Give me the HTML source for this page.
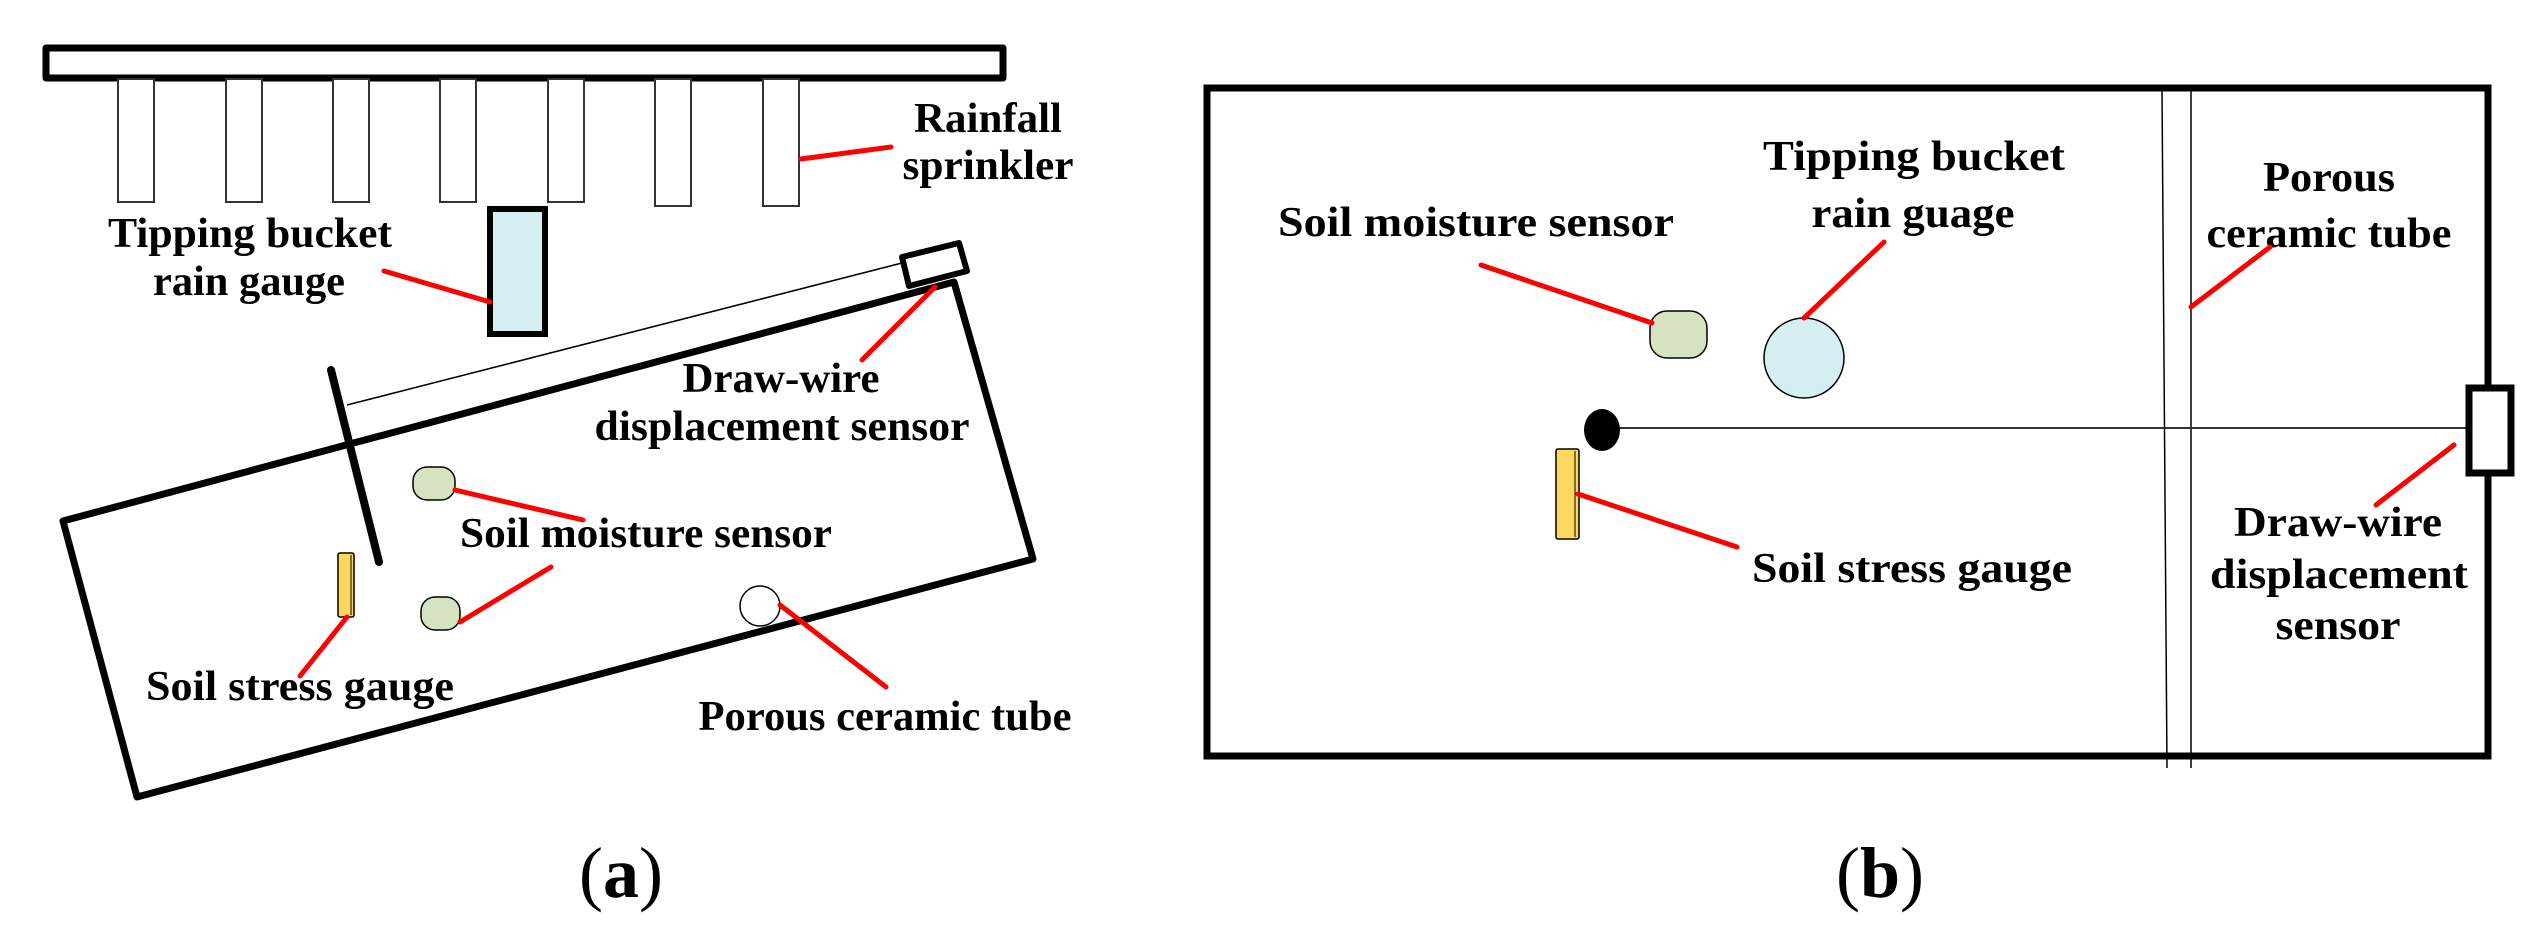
<!DOCTYPE html>
<html><head><meta charset="utf-8"><style>
html,body{margin:0;padding:0;background:#fff;}
svg{display:block;}
text{font-family:"Liberation Serif",serif;font-weight:bold;fill:#000;}
</style></head><body>
<svg width="2532" height="945" viewBox="0 0 2532 945" xmlns="http://www.w3.org/2000/svg">
<!-- Panel (a) -->
<rect x="46" y="48" width="957" height="30" fill="#fff" stroke="#000" stroke-width="7" stroke-linejoin="round"/>
<g fill="#fff" stroke="#333" stroke-width="2">
<rect x="118" y="79" width="36" height="123"/>
<rect x="226" y="79" width="36" height="123"/>
<rect x="333" y="79" width="36" height="123"/>
<rect x="440" y="79" width="36" height="123"/>
<rect x="548" y="79" width="36" height="123"/>
<rect x="655" y="79" width="36" height="127"/>
<rect x="763" y="79" width="36" height="127"/>
</g>
<rect x="490" y="209" width="55" height="125" fill="#d5eef2" stroke="#000" stroke-width="6"/>
<line x1="384" y1="271" x2="490" y2="302" stroke="#f00" stroke-width="5" stroke-linecap="round"/>
<text x="250" y="247" font-size="42" text-anchor="middle" textLength="284" lengthAdjust="spacingAndGlyphs">Tipping bucket</text>
<text x="249" y="295" font-size="42" text-anchor="middle" textLength="192" lengthAdjust="spacingAndGlyphs">rain gauge</text>
<line x1="801" y1="159" x2="891" y2="147" stroke="#f00" stroke-width="5" stroke-linecap="round"/>
<text x="988" y="132" font-size="42" text-anchor="middle" textLength="148" lengthAdjust="spacingAndGlyphs">Rainfall</text>
<text x="988" y="179" font-size="42" text-anchor="middle" textLength="171" lengthAdjust="spacingAndGlyphs">sprinkler</text>
<!-- tilted box -->
<polygon points="63,521 954,282 1033,559 137,797" fill="none" stroke="#000" stroke-width="7" stroke-linejoin="round"/>
<line x1="347" y1="405" x2="902" y2="263" stroke="#000" stroke-width="1.5"/>
<polygon points="902,257 959,243 967,271 909,286" fill="#fff" stroke="#000" stroke-width="6" stroke-linejoin="round"/>
<line x1="331" y1="370" x2="379" y2="562" stroke="#000" stroke-width="8" stroke-linecap="round"/>
<line x1="935" y1="287" x2="862" y2="360" stroke="#f00" stroke-width="5" stroke-linecap="round"/>
<text x="781" y="392" font-size="42" text-anchor="middle" textLength="197" lengthAdjust="spacingAndGlyphs">Draw-wire</text>
<text x="782" y="440" font-size="42" text-anchor="middle" textLength="375" lengthAdjust="spacingAndGlyphs">displacement sensor</text>
<rect x="413" y="467" width="42" height="33" rx="14" fill="#d5e3c0" stroke="#000" stroke-width="1.5"/>
<rect x="421" y="597" width="39" height="33" rx="14" fill="#d5e3c0" stroke="#000" stroke-width="1.5"/>
<line x1="455" y1="490" x2="583" y2="520" stroke="#f00" stroke-width="5" stroke-linecap="round"/>
<line x1="460" y1="622" x2="551" y2="567" stroke="#f00" stroke-width="5" stroke-linecap="round"/>
<text x="646" y="547" font-size="42" text-anchor="middle" textLength="372" lengthAdjust="spacingAndGlyphs">Soil moisture sensor</text>
<rect x="338" y="553" width="16" height="64" rx="2" fill="#fdd85d" stroke="#000" stroke-width="1.5"/>
<line x1="351" y1="555" x2="351" y2="615" stroke="#000" stroke-width="1"/>
<line x1="347" y1="617" x2="300" y2="676" stroke="#f00" stroke-width="5" stroke-linecap="round"/>
<text x="300" y="700" font-size="42" text-anchor="middle" textLength="308" lengthAdjust="spacingAndGlyphs">Soil stress gauge</text>
<circle cx="760" cy="606" r="20" fill="#fff" stroke="#000" stroke-width="1.5"/>
<line x1="780" y1="605" x2="886" y2="687" stroke="#f00" stroke-width="5" stroke-linecap="round"/>
<text x="885" y="730" font-size="42" text-anchor="middle" textLength="373" lengthAdjust="spacingAndGlyphs">Porous ceramic tube</text>
<text x="621" y="897" font-size="72" text-anchor="middle" font-weight="normal" style="font-weight:normal">(<tspan font-weight="bold" style="font-weight:bold">a</tspan>)</text>
<!-- Panel (b) -->
<rect x="1207" y="88" width="1281" height="668" fill="none" stroke="#000" stroke-width="7"/>
<line x1="2162" y1="91" x2="2167" y2="768" stroke="#000" stroke-width="1.5"/>
<line x1="2191" y1="91" x2="2191" y2="768" stroke="#000" stroke-width="1.5"/>
<line x1="1610" y1="428" x2="2468" y2="428" stroke="#333" stroke-width="2"/>
<ellipse cx="1602" cy="430" rx="18" ry="21" fill="#000"/>
<rect x="2469" y="388" width="42" height="85" fill="#fff" stroke="#000" stroke-width="7"/>
<rect x="1556" y="449" width="23" height="90" rx="2" fill="#fdd85d" stroke="#000" stroke-width="1.5"/>
<line x1="1575" y1="451" x2="1575" y2="537" stroke="#000" stroke-width="1"/>
<line x1="1578" y1="494" x2="1737" y2="547" stroke="#f00" stroke-width="5" stroke-linecap="round"/>
<text x="1912" y="582" font-size="42" text-anchor="middle" textLength="320" lengthAdjust="spacingAndGlyphs">Soil stress gauge</text>
<rect x="1650" y="311" width="57" height="47" rx="17" fill="#d5e3c0" stroke="#000" stroke-width="1.5"/>
<line x1="1652" y1="323" x2="1481" y2="265" stroke="#f00" stroke-width="5" stroke-linecap="round"/>
<text x="1476" y="236" font-size="42" text-anchor="middle" textLength="396" lengthAdjust="spacingAndGlyphs">Soil moisture sensor</text>
<circle cx="1804" cy="358" r="40" fill="#d5eef2" stroke="#000" stroke-width="1.5"/>
<line x1="1804" y1="318" x2="1884" y2="242" stroke="#f00" stroke-width="5" stroke-linecap="round"/>
<text x="1914" y="170" font-size="42" text-anchor="middle" textLength="302" lengthAdjust="spacingAndGlyphs">Tipping bucket</text>
<text x="1913" y="227" font-size="42" text-anchor="middle" textLength="203" lengthAdjust="spacingAndGlyphs">rain guage</text>
<text x="2329" y="191" font-size="42" text-anchor="middle" textLength="132" lengthAdjust="spacingAndGlyphs">Porous</text>
<text x="2329" y="247" font-size="42" text-anchor="middle" textLength="245" lengthAdjust="spacingAndGlyphs">ceramic tube</text>
<line x1="2270" y1="247" x2="2191" y2="307" stroke="#f00" stroke-width="5" stroke-linecap="round"/>
<line x1="2454" y1="445" x2="2376" y2="505" stroke="#f00" stroke-width="5" stroke-linecap="round"/>
<text x="2338" y="536" font-size="42" text-anchor="middle" textLength="208" lengthAdjust="spacingAndGlyphs">Draw-wire</text>
<text x="2339" y="588" font-size="42" text-anchor="middle" textLength="258" lengthAdjust="spacingAndGlyphs">displacement</text>
<text x="2338" y="639" font-size="42" text-anchor="middle" textLength="125" lengthAdjust="spacingAndGlyphs">sensor</text>
<text x="1880" y="897" font-size="72" text-anchor="middle" style="font-weight:normal">(<tspan style="font-weight:bold">b</tspan>)</text>
</svg>
</body></html>
